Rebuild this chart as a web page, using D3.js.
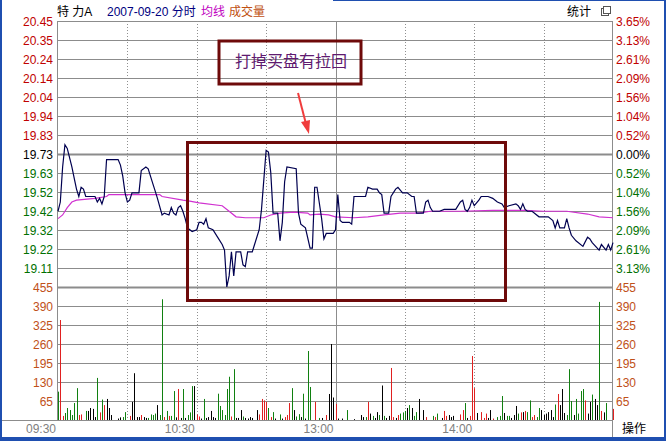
<!DOCTYPE html>
<html><head><meta charset="utf-8">
<script src="https://cdn.jsdelivr.net/npm/d3@7"></script>
<style>html,body{margin:0;padding:0;background:#fff;}svg{display:block;}</style>
</head><body><svg id="c" width="666" height="441"></svg>
<script>
// ---------- data ----------
const stockName = "特 力A";
const dateText = "2007-09-20 分时";
const prevClose = 19.73;
const priceLabels = ["20.45","20.35","20.24","20.14","20.04","19.94","19.83","19.73","19.63","19.52","19.42","19.32","19.22","19.11"];
const pctLabels = ["3.65%","3.13%","2.61%","2.09%","1.56%","1.04%","0.52%","0.00%","0.52%","1.04%","1.56%","2.09%","2.61%","3.13%"];
const volLabels = [455,390,325,260,195,130,65];
const timeLabels = ["09:30","10:30","13:00","14:00"];
const timeLabelMinutes = [0,60,120,180];
const gridMinutes = [30,60,90,120,150,180,210];

const priceMinutes = [0,1,2,3,4,6,7,8,9,10,11,12,16,17,18,19,20,21,26,27,28,29,30,31,32,35,36,38,39,41,42,43,45,46,48,49,50,51,52,53,54,55,56,57,58,60,61,62,63,64,65,67,69,71,72,73,74,75,76,77,79,80,81,82,84,85,87,88,89,90,91,92,93,95,96,97,98,99,103,104,105,107,109,110,111,112,114,115,116,119,120,121,122,123,125,126,127,128,133,134,136,138,139,140,141,143,144,146,147,149,151,153,154,155,158,159,160,161,162,165,167,172,174,175,176,177,178,179,180,182,183,186,188,190,192,193,195,198,199,200,201,202,203,205,208,212,214,215,216,217,219,220,221,222,224,227,229,230,231,234,235,237,238,239,240];
const prices = [19.42,19.47,19.66,19.78,19.76,19.66,19.60,19.54,19.50,19.55,19.54,19.50,19.50,19.47,19.49,19.46,19.50,19.70,19.70,19.67,19.61,19.52,19.47,19.48,19.52,19.52,19.64,19.66,19.65,19.57,19.53,19.49,19.40,19.41,19.40,19.44,19.41,19.40,19.44,19.45,19.42,19.38,19.33,19.32,19.31,19.32,19.36,19.36,19.35,19.38,19.33,19.32,19.28,19.24,19.21,19.01,19.07,19.20,19.07,19.20,19.20,19.13,19.12,19.20,19.20,19.24,19.32,19.43,19.59,19.75,19.74,19.63,19.41,19.41,19.26,19.36,19.58,19.66,19.65,19.41,19.35,19.33,19.22,19.22,19.55,19.55,19.38,19.27,19.30,19.30,19.32,19.51,19.37,19.36,19.36,19.36,19.35,19.50,19.50,19.55,19.54,19.54,19.52,19.51,19.41,19.41,19.50,19.54,19.55,19.52,19.52,19.50,19.50,19.41,19.41,19.47,19.48,19.44,19.42,19.42,19.43,19.43,19.47,19.48,19.43,19.42,19.44,19.48,19.45,19.48,19.50,19.50,19.49,19.47,19.46,19.44,19.45,19.46,19.45,19.43,19.46,19.43,19.42,19.42,19.39,19.39,19.37,19.33,19.37,19.33,19.33,19.38,19.33,19.29,19.26,19.23,19.28,19.27,19.25,19.21,19.24,19.21,19.24,19.21,19.25];

const avgMinutes = [0,2,4,6,8,16,21,22,28,44,45,54,57,61,71,74,77,81,85,89,92,96,102,108,109,113,117,120,128,134,141,148,156,161,174,188,202,210,220,229,234,240];
const avgPrices = [19.38,19.40,19.44,19.47,19.48,19.49,19.50,19.51,19.51,19.51,19.50,19.48,19.475,19.465,19.45,19.42,19.39,19.385,19.385,19.385,19.40,19.41,19.415,19.41,19.40,19.405,19.40,19.39,19.385,19.39,19.40,19.41,19.41,19.42,19.42,19.425,19.425,19.42,19.42,19.405,19.39,19.385];

// volume per minute: minute index, volume, type (u = up/red, d = down/green, f = flat/black)
const volMinutes = [
  0,1,2,3,4,5,6,7,8,9,
  10,12,13,14,15,16,17,18,19,20,
  21,22,23,26,27,28,29,31,32,33,
  34,35,36,37,38,39,40,41,42,43,
  44,45,46,47,48,49,50,51,52,53,
  54,55,56,57,58,59,60,61,62,63,
  64,65,66,67,68,69,70,71,72,73,
  74,75,76,77,78,79,80,81,82,83,
  84,86,87,88,89,90,91,92,93,94,
  96,97,98,99,100,101,102,103,104,105,
  106,107,108,109,111,113,114,116,117,118,
  119,120,121,123,125,128,131,132,133,134,
  135,136,137,138,139,140,141,142,143,144,
  145,146,147,148,149,150,151,152,153,154,
  155,156,158,159,162,163,164,166,167,168,
  169,170,171,174,175,176,177,178,179,180,
  181,183,184,185,186,187,188,190,191,192,
  193,194,195,196,197,198,199,200,201,202,
  203,204,205,206,207,208,209,210,211,212,
  213,214,215,216,217,218,219,220,221,222,
  223,224,225,226,227,228,229,230,231,232,
  233,234,235,236,237,240];
const volValues = [
  97,342,14,24,41,34,17,58,109,17,
  19,31,31,41,38,10,144,26,70,51,
  72,41,17,5,9,10,27,14,62,160,
  10,10,17,10,7,7,19,17,22,51,
  17,413,10,31,14,14,99,9,106,7,
  106,7,17,26,116,116,19,12,5,72,
  7,10,31,10,7,90,48,34,17,106,
  148,12,174,7,7,34,12,7,5,10,
  7,34,19,72,67,62,41,10,27,5,
  19,5,10,17,58,109,34,12,20,10,
  90,5,236,113,62,7,7,17,89,260,
  77,55,5,5,34,3,17,10,10,62,
  22,14,7,27,17,118,14,7,14,178,
  10,7,17,22,26,31,41,51,41,14,
  27,72,34,10,14,10,22,7,31,14,
  17,10,14,19,34,58,7,14,219,109,
  24,27,7,22,7,34,5,10,14,82,
  24,14,14,7,17,48,22,26,27,31,
  27,67,10,17,10,41,34,17,22,27,
  34,10,53,89,51,106,24,17,174,65,
  17,72,22,99,106,67,22,62,87,72,
  51,404,31,26,58,38];
const volTypes = [
  "duuddddddu","udffffdudu","fffffdduff","ffuffddddf","ddududdfuf",
  "dfdddfuufd","fffffddddd","dudfffdfff","ffuuuududf","dfuuudfddf",
  "dfddudfuff","fuffdfffdu","fdffdfdffu","ufudddfdfd","dffududfuu",
  "fffuudfuuu","fuuuffuddd","fddfffdufu","dduuddffff","ffdufffddd",
  "fdddduffdf","fdufdu"].join("").split("");

// ---------- layout ----------
const L = 57, R = 612, T = 21, MID = 287, B = 420;
const svg = d3.select("#c");
const x = d3.scaleLinear().domain([0, 240]).range([58, 613]);
const pStep = 0.72 / 7;
const y = d3.scaleLinear().domain([prevClose - 7 * pStep, prevClose + 7 * pStep]).range([MID, T]);
const yv = d3.scaleLinear().domain([0, 455]).range([B, MID]);
const px = v => Math.round(v) + 0.5;

const FONT = "'Liberation Sans', Arial, 'Noto Sans CJK SC', sans-serif";
const RED = "#c00000", GREEN = "#007000", VOLC = "#c05018", GRID = "#8c8c8c";

svg.append("rect").attr("width", 666).attr("height", 441).attr("fill", "#fff");

// grid: price
const g = svg.append("g");
d3.range(7, -7, -1).forEach((k, i) => {
  const yy = px(y(prevClose + k * pStep));
  g.append("line").attr("x1", L).attr("x2", R).attr("y1", yy).attr("y2", yy)
    .attr("stroke", GRID).attr("stroke-width", k === 0 ? 2 : 1);
  const col = k > 0 ? RED : (k === 0 ? "#000" : GREEN);
  svg.append("text").attr("x", 53).attr("y", yy).attr("dy", "0.36em").attr("text-anchor", "end")
    .attr("font-family", FONT).attr("font-size", 12).attr("fill", col).text(priceLabels[i]);
  svg.append("text").attr("x", 616).attr("y", yy).attr("dy", "0.36em")
    .attr("font-family", FONT).attr("font-size", 12).attr("fill", col).text(pctLabels[i]);
});
// grid: volume
volLabels.forEach(v => {
  const yy = px(yv(v));
  g.append("line").attr("x1", L).attr("x2", R).attr("y1", yy).attr("y2", yy)
    .attr("stroke", GRID).attr("stroke-width", v === 455 ? 2 : 1);
  svg.append("text").attr("x", 53).attr("y", yy).attr("dy", "0.36em").attr("text-anchor", "end")
    .attr("font-family", FONT).attr("font-size", 12).attr("fill", VOLC).text(v);
  svg.append("text").attr("x", 616).attr("y", yy).attr("dy", "0.36em")
    .attr("font-family", FONT).attr("font-size", 12).attr("fill", VOLC).text(v);
});
// vertical grid
gridMinutes.forEach(m => {
  const xx = px(x(m));
  g.append("line").attr("x1", xx).attr("x2", xx).attr("y1", T).attr("y2", B)
    .attr("stroke", m === 120 ? GRID : "#909090").attr("stroke-width", 1)
    .attr("stroke-dasharray", m === 120 ? null : "1,2");
});
// frame lines
svg.append("line").attr("x1", L + 0.5).attr("x2", L + 0.5).attr("y1", T).attr("y2", B).attr("stroke", GRID);
svg.append("line").attr("x1", R + 0.5).attr("x2", R + 0.5).attr("y1", T).attr("y2", 438).attr("stroke", GRID);
svg.append("line").attr("x1", 0).attr("x2", R).attr("y1", B + 0.5).attr("y2", B + 0.5).attr("stroke", GRID);

// volume bars
const vcol = {u: "#e02020", d: "#108010", f: "#000000"};
svg.append("g").selectAll("line").data(volMinutes.map((m, i) => ({m, v: volValues[i], t: volTypes[i]})))
  .join("line")
  .attr("x1", d => px(x(d.m))).attr("x2", d => px(x(d.m)))
  .attr("y1", yv(0)).attr("y2", d => yv(d.v))
  .attr("stroke", d => vcol[d.t] || "#000").attr("stroke-width", 1);

// avg line
svg.append("path").datum(avgMinutes.map((m, i) => [m, avgPrices[i]]))
  .attr("d", d3.line().x(d => x(d[0])).y(d => y(d[1])))
  .attr("fill", "none").attr("stroke", "#d030d0").attr("stroke-width", 1.2);
// price line
svg.append("path").datum(priceMinutes.map((m, i) => [m, prices[i]]))
  .attr("d", d3.line().x(d => x(d[0])).y(d => y(d[1])))
  .attr("fill", "none").attr("stroke", "#000050").attr("stroke-width", 1.2);

// time labels
timeLabels.forEach((t, i) => {
  svg.append("text").attr("x", x(timeLabelMinutes[i]) - 2).attr("y", 433).attr("text-anchor", "end")
    .attr("font-family", FONT).attr("font-size", 12).attr("fill", "#808080").text(t);
});

// header
const hdr = svg.append("text").attr("x", 57).attr("y", 16).attr("font-family", FONT).attr("font-size", 12);
hdr.append("tspan").attr("fill", "#000").text(stockName);
hdr.append("tspan").attr("x", 107).attr("fill", "#000080").text(dateText);
hdr.append("tspan").attr("x", 201).attr("fill", "#c000c0").text("均线");
hdr.append("tspan").attr("x", 229).attr("fill", "#c05010").text("成交量");
svg.append("text").attr("x", 567).attr("y", 16).attr("font-family", FONT).attr("font-size", 12).attr("fill", "#000").text("统计");
svg.append("rect").attr("x", 601.5).attr("y", 8.5).attr("width", 7).attr("height", 7).attr("fill", "#fff").attr("stroke", "#555");
svg.append("rect").attr("x", 603.5).attr("y", 6.5).attr("width", 7).attr("height", 7).attr("fill", "#fff").attr("stroke", "#555");
svg.append("text").attr("x", 622).attr("y", 433).attr("font-family", FONT).attr("font-size", 12).attr("fill", "#000").text("操作");

// annotations
const MAROON = "#6e0a0a";
svg.append("rect").attr("x", 187.5).attr("y", 142.5).attr("width", 318).attr("height", 158)
  .attr("fill", "none").attr("stroke", MAROON).attr("stroke-width", 3);
svg.append("rect").attr("x", 219).attr("y", 41).attr("width", 142).attr("height", 43)
  .attr("fill", "none").attr("stroke", MAROON).attr("stroke-width", 3);
svg.append("text").attr("x", 291).attr("y", 61).attr("dy", "0.36em").attr("text-anchor", "middle")
  .attr("font-family", "'Noto Sans CJK SC', sans-serif").attr("font-size", 16).attr("fill", "#601a70").text("打掉买盘有拉回");
svg.append("line").attr("x1", 298).attr("y1", 93).attr("x2", 306).attr("y2", 124).attr("stroke", "#f03c3c").attr("stroke-width", 2);
svg.append("path").attr("d", "M301,122 L310,120 L309,134 Z").attr("fill", "#f03c3c");

// blue window frame
const BLUE = "#1f4fb0";
svg.append("rect").attr("x", 0).attr("y", 0).attr("width", 2).attr("height", 441).attr("fill", BLUE);
svg.append("rect").attr("x", 664).attr("y", 0).attr("width", 2).attr("height", 441).attr("fill", BLUE);
svg.append("rect").attr("x", 0).attr("y", 437).attr("width", 666).attr("height", 4).attr("fill", BLUE);
svg.append("rect").attr("x", 333).attr("y", 0).attr("width", 333).attr("height", 1).attr("fill", BLUE);
</script></body></html>
